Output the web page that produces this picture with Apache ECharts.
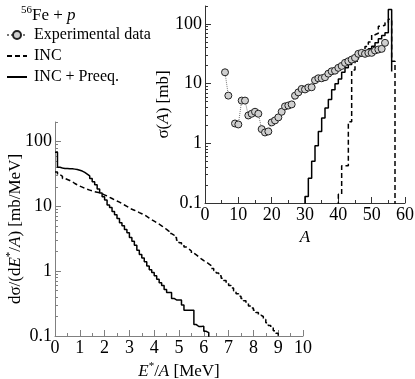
<!DOCTYPE html>
<html>
<head>
<meta charset="utf-8">
<script src="https://cdn.jsdelivr.net/npm/echarts@6/dist/echarts.min.js"></script>
<style>
html, body { margin: 0; padding: 0; background: #fff; }
#chart { width: 415px; height: 379px; }
</style>
</head>
<body>
<div id="chart"></div>
<script>
// inset: mass distribution sigma(A)
var expA = [6, 7, 8, 9, 10, 11, 12, 13, 14, 15, 16, 17, 18, 19, 20, 21, 22, 23, 24, 25, 26, 27, 28, 29, 30,
            31, 32, 33, 34, 35, 36, 37, 38, 39, 40, 41, 42, 43, 44, 45, 46, 47, 48, 49, 50, 51, 52, 53, 54];
var expSigma = [15.5, 6.3, '-', 2.15, 2.07, 5.2, 5.2, 2.93, 3.13, 3.38, 3.13, 1.73, 1.52, 1.58, 2.24, 2.42, 2.72, 3.38, 4.16, 4.3, 4.49, 6.28, 7.14, 8.15, 8.0,
                8.6, 8.7, 11.4, 12.3, 12.3, 12.8, 14.7, 16.1, 16.5, 18.4, 19.8, 22.3, 23.7, 25.3, 27, 31.6, 32.8, 31.6, 32.8, 32.8, 35.9, 37.3, 38.3, 48.3];

var incFirstA = 40;
var incSigma = [0.14, 0.42, 0.42, 2.3, 17, 23.7, 30, 34, 42, 50, 66, 70, 92, 95, 105, 120, 23.7];
var preFirstA = 30;
var preSigma = [0.128, 0.26, 0.5, 0.91, 1.58, 2.65, 3.9, 5.4, 7.9, 10, 12, 15.5, 18.4, 20.9, 23.7, 26, 28.8,
                32.8, 34.9, 38.3, 42.4, 48.3, 56.4, 64, 71, 175];
var preLastSigma = 16;

// main panel: excitation energy spectra, 0.1 MeV bins from 0
var eBin = 0.1;
var incSpec = [34, 31, 29, 27, 26, 25, 24, 22.5, 21.5, 20.5,
               19.8, 19, 18.3, 17.8, 17.3, 16.8, 16.5, 16.2, 15.6, 15,
               14.5, 13.8, 13.2, 12.6, 12.1, 11.6, 11, 10.5, 10, 9.5,
               9.0, 8.7, 8.4, 8.0, 7.7, 7.4, 7.0, 6.6, 6.2, 5.9,
               5.6, 5.3, 5.0, 4.7, 4.4, 4.1, 3.8, 3.6, 3.3, 3.0,
               2.75, 2.55, 2.35, 2.2, 2.05, 1.9, 1.78, 1.66, 1.55, 1.45,
               1.38, 1.3, 1.22, 1.1, 1.02, 0.94, 0.85, 0.78, 0.72, 0.66,
               0.6, 0.55, 0.5, 0.45, 0.41, 0.38, 0.35, 0.32, 0.29, 0.27,
               0.25, 0.23, 0.21, 0.2, 0.18, 0.16, 0.145, 0.135, 0.12, 0.11];
var preSpec = [68, 40, 39, 38.5, 38.5, 38, 38, 37.5, 37, 36,
               35, 33.5, 31.5, 29.5, 27, 24, 21.5, 18.5, 16, 14,
               12.5, 10.5, 9.6, 8.3, 7.4, 6.5, 5.6, 5.0, 4.4, 3.9,
               3.3, 2.9, 2.5, 2.1, 1.8, 1.6, 1.4, 1.2, 1.05, 0.95,
               0.85, 0.75, 0.66, 0.6, 0.52, 0.47, 0.47, 0.38, 0.36, 0.36,
               0.36, 0.3, 0.25, 0.25, 0.25, 0.25, 0.15, 0.14, 0.14, 0.142,
               0.118, 0.113];

var majorTicks = [0.1, 1, 10, 100];
var minorTicks = [0.2, 0.3, 0.4, 0.5, 0.6, 0.7, 0.8, 0.9, 2, 3, 4, 5, 6, 7, 8, 9,
                  20, 30, 40, 50, 60, 70, 80, 90, 200];

var FLOOR = 0.01; // histogram drops below the 0.1 floor (clipped)
var font = 'Liberation Serif';

function hist(x0, w, vals, rise, endVal) {
    var pts = [];
    if (rise) pts.push([x0, FLOOR]);
    for (var i = 0; i < vals.length; i++) {
        pts.push([Math.round((x0 + i * w) * 1000) / 1000, vals[i]]);
    }
    pts.push([Math.round((x0 + vals.length * w) * 1000) / 1000, endVal]);
    return pts;
}

var expData = expA.map(function (a, i) { return [a, expSigma[i]]; });

var richText = {
    n: { fontFamily: font, fontSize: 17, fontWeight: 'normal', color: '#000' },
    i: { fontFamily: font, fontSize: 17, fontWeight: 'normal', fontStyle: 'italic', color: '#000' },
    s: { fontFamily: font, fontSize: 11, fontWeight: 'normal', color: '#000', verticalAlign: 'top', lineHeight: 22 }
};

function logLabel(v) {
    return v < 0.5 ? '0.1' : String(Math.round(v));
}

function xAxisCfg(grid, max, interval, name, gap, color) {
    return {
        type: 'value', gridIndex: grid, min: 0, max: max, interval: interval,
        name: name, nameLocation: 'middle', nameGap: gap, nameMoveOverlap: false,
        nameTextStyle: { rich: richText },
        axisLine: { lineStyle: { color: color, width: 1 } },
        axisTick: { inside: true, length: 6, lineStyle: { color: color } },
        minorTick: { show: true, splitNumber: 2, length: 3, lineStyle: { color: color } },
        axisLabel: { fontFamily: font, fontSize: 18, color: '#000', margin: 3 },
        splitLine: { show: false }
    };
}

function yAxisCfg(grid, name, gap, color) {
    return {
        type: 'log', gridIndex: grid, min: 0.1, max: 200, logBase: 10,
        name: name, nameLocation: 'middle', nameGap: gap, nameMoveOverlap: false,
        nameTextStyle: { rich: richText },
        axisLine: { lineStyle: { color: color, width: 1 } },
        axisTick: { inside: true, length: 6, customValues: majorTicks, lineStyle: { color: color } },
        axisLabel: { fontFamily: font, fontSize: 18, color: '#000', margin: 3,
                     customValues: majorTicks, formatter: logLabel },
        splitLine: { show: false }
    };
}

function yMinorCfg(grid, color) {
    return {
        type: 'log', gridIndex: grid, min: 0.1, max: 200, logBase: 10,
        position: 'left', offset: 0,
        axisLine: { show: false },
        axisTick: { inside: true, length: 3, customValues: minorTicks, lineStyle: { color: color } },
        axisLabel: { show: false },
        splitLine: { show: false }
    };
}

var hiddenMark = { color: 'rgba(0,0,0,0)', borderColor: 'rgba(0,0,0,0)', borderWidth: 0 };

var myChart = echarts.init(document.getElementById('chart'));

var option = {
    backgroundColor: '#fff',
    animation: false,
    title: {
        text: '{s|56}{n|Fe + }{i|p}',
        left: 16, top: 0,
        textStyle: { fontWeight: 'normal', rich: richText }
    },
    legend: {
        orient: 'vertical', left: 1, top: 22,
        itemWidth: 20, itemHeight: 10, itemGap: 5,
        textStyle: { fontFamily: font, fontSize: 16, color: '#000', padding: [0, 0, 0, 2] },
        data: [
            'Experimental data',
            { name: 'INC', itemStyle: hiddenMark },
            { name: 'INC + Preeq.', itemStyle: hiddenMark }
        ]
    },
    grid: [
        { left: 55, top: 122, width: 248, height: 214, outerBoundsMode: 'none' },
        { left: 205, top: 6, width: 200, height: 197, outerBoundsMode: 'none' }
    ],
    xAxis: [
        xAxisCfg(0, 10, 1, '{i|E}{s|*}{n|/}{i|A}{n| [MeV]}', 25, '#808080'),
        xAxisCfg(1, 60, 10, '{i|A}', 26, '#333')
    ],
    yAxis: [
        yAxisCfg(0, '{n|dσ/(d}{i|E}{s|*}{n|/}{i|A}{n|) [mb/MeV]}', 28, '#808080'),
        yMinorCfg(0, '#808080'),
        yAxisCfg(1, '{n|σ(}{i|A}{n|) [mb]}', 33, '#333'),
        yMinorCfg(1, '#333')
    ],
    series: [
        {
            name: 'INC', type: 'line', xAxisIndex: 0, yAxisIndex: 0,
            step: 'end', symbol: 'none', clip: true,
            data: hist(0, eBin, incSpec, false, FLOOR),
            lineStyle: { color: '#000', width: 1.5, type: [5, 3] },
            itemStyle: { color: '#000' }
        },
        {
            name: 'INC + Preeq.', type: 'line', xAxisIndex: 0, yAxisIndex: 0,
            step: 'end', symbol: 'none', clip: true,
            data: hist(0, eBin, preSpec, false, FLOOR),
            lineStyle: { color: '#000', width: 1.5 },
            itemStyle: { color: '#000' }
        },
        {
            name: 'Experimental data', type: 'line', xAxisIndex: 1, yAxisIndex: 2,
            symbol: 'circle', symbolSize: 7, connectNulls: false,
            data: expData,
            lineStyle: { color: '#777', width: 1, type: 'dotted' },
            itemStyle: { color: '#cfcfcf', borderColor: '#222', borderWidth: 1 }
        },
        {
            name: 'INC', type: 'line', xAxisIndex: 1, yAxisIndex: 2,
            step: 'end', symbol: 'none', clip: true,
            data: hist(incFirstA, 1, incSigma, true, FLOOR),
            lineStyle: { color: '#000', width: 1.5, type: [5, 3] },
            itemStyle: { color: '#000' }
        },
        {
            name: 'INC + Preeq.', type: 'line', xAxisIndex: 1, yAxisIndex: 2,
            step: 'end', symbol: 'none', clip: true,
            data: hist(preFirstA, 1, preSigma, true, preLastSigma),
            lineStyle: { color: '#000', width: 1.5 },
            itemStyle: { color: '#000' }
        }
    ]
};

myChart.setOption(option);
window.addEventListener('resize', function () {
    myChart.resize();
});
</script>
</body>
</html>
